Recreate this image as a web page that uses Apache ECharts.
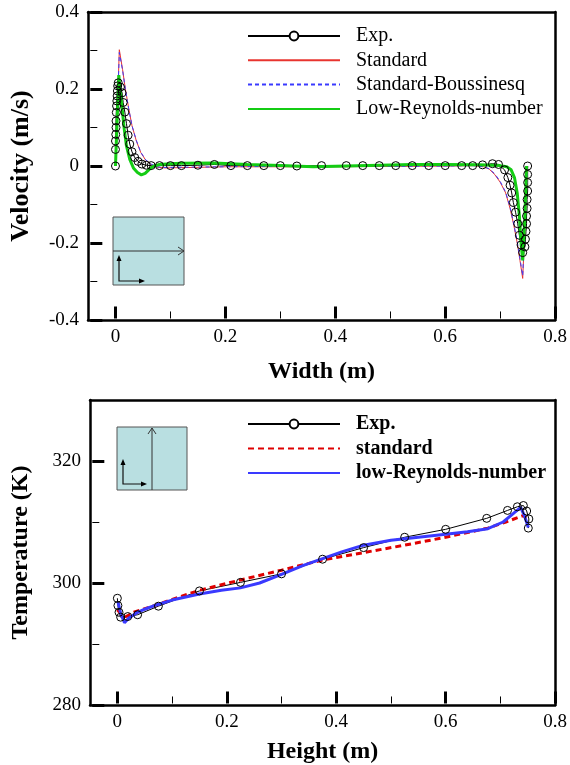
<!DOCTYPE html>
<html>
<head>
<meta charset="utf-8">
<script src="https://cdn.jsdelivr.net/npm/echarts@6/dist/echarts.min.js"></script>
<style>
  html, body { margin: 0; padding: 0; background: #fff; }
  #chart { width: 570px; height: 765px; }
</style>
</head>
<body>
<div id="chart"></div>
<script>
const FONT = '"Liberation Serif", "Times New Roman", serif';

// ---- top panel: velocity across the width ----
const velExp = [
  [0, 0], [0, 0.043], [0, 0.065], [0.0005, 0.082], [0.001, 0.1], [0.001, 0.117],
  [0.0015, 0.139], [0.002, 0.156], [0.0025, 0.169], [0.003, 0.182], [0.0035, 0.195],
  [0.004, 0.208], [0.005, 0.216], [0.009, 0.205], [0.012, 0.19], [0.014, 0.165],
  [0.017, 0.14], [0.02, 0.11], [0.023, 0.08], [0.026, 0.057], [0.03, 0.037],
  [0.035, 0.022], [0.041, 0.012], [0.048, 0.005], [0.056, 0.002], [0.065, 0.001],
  [0.08, 0.001], [0.1, 0.001], [0.12, 0.001], [0.15, 0.002], [0.18, 0.004],
  [0.21, 0.001], [0.24, 0.001], [0.27, 0.001], [0.3, 0.001], [0.33, 0],
  [0.375, 0.001], [0.42, 0.001], [0.45, 0.001], [0.48, 0.001], [0.51, 0.001],
  [0.54, 0.001], [0.57, 0.001], [0.6, 0.001], [0.63, 0.001], [0.65, 0.001],
  [0.668, 0.003], [0.686, 0.006], [0.697, 0.004], [0.708, -0.01], [0.714, -0.03],
  [0.718, -0.05], [0.721, -0.07], [0.724, -0.095], [0.728, -0.12], [0.732, -0.15],
  [0.735, -0.18], [0.738, -0.205], [0.741, -0.225], [0.745, -0.21], [0.746, -0.19],
  [0.747, -0.17], [0.748, -0.15], [0.748, -0.13], [0.749, -0.11], [0.749, -0.087],
  [0.75, -0.065], [0.75, -0.043], [0.75, -0.022], [0.75, 0]
];
const velStandard = [
  [0, 0], [0.007, 0.302], [0.013, 0.25], [0.018, 0.2], [0.024, 0.15], [0.03, 0.105],
  [0.038, 0.065], [0.046, 0.035], [0.055, 0.015], [0.065, 0.004], [0.075, -0.003],
  [0.09, -0.005], [0.13, -0.004], [0.2, -0.002], [0.3, -0.002], [0.4, -0.002],
  [0.5, -0.001], [0.6, 0], [0.65, 0.001], [0.67, -0.002], [0.68, -0.008],
  [0.69, -0.022], [0.7, -0.042], [0.71, -0.07], [0.718, -0.11], [0.725, -0.155],
  [0.731, -0.2], [0.736, -0.245], [0.741, -0.292], [0.75, 0]
];
const velBoussinesq = [
  [0, 0], [0.007, 0.295], [0.013, 0.248], [0.018, 0.199], [0.024, 0.149], [0.03, 0.105],
  [0.038, 0.066], [0.046, 0.036], [0.055, 0.016], [0.065, 0.005], [0.075, -0.002],
  [0.09, -0.004], [0.13, -0.003], [0.2, -0.002], [0.3, -0.001], [0.4, -0.001],
  [0.5, -0.001], [0.6, 0], [0.65, 0.001], [0.67, -0.002], [0.68, -0.007],
  [0.69, -0.02], [0.7, -0.04], [0.71, -0.068], [0.718, -0.107], [0.725, -0.152],
  [0.731, -0.196], [0.736, -0.24], [0.741, -0.285], [0.75, 0]
];
const velLowRe = [
  [0, 0], [0.006, 0.236], [0.011, 0.165], [0.016, 0.095], [0.02, 0.052], [0.026, 0.017],
  [0.033, -0.006], [0.04, -0.017], [0.047, -0.023], [0.054, -0.019], [0.062, -0.008],
  [0.07, 0], [0.08, 0.004], [0.1, 0.006], [0.12, 0.007], [0.18, 0.008], [0.24, 0.004],
  [0.3, 0.001], [0.36, -0.002], [0.42, 0], [0.48, 0.002], [0.54, 0.004], [0.6, 0.004],
  [0.66, 0.003], [0.7, 0.001], [0.712, -0.002], [0.72, -0.01], [0.726, -0.03],
  [0.731, -0.07], [0.735, -0.13], [0.738, -0.2], [0.741, -0.245], [0.745, -0.13],
  [0.748, 0]
];
const velXTicks = [0, 0.2, 0.4, 0.6, 0.8];
const velXMinor = [0.1, 0.3, 0.5, 0.7];
const velYTicks = [-0.4, -0.2, 0, 0.2, 0.4];
const velYMinor = [-0.3, -0.1, 0.1, 0.3];

// ---- bottom panel: temperature along the height ----
const tempExp = [
  [0, 297.5], [0.001, 296.3], [0.003, 295.2], [0.006, 294.4], [0.019, 294.5],
  [0.037, 294.8], [0.075, 296.2], [0.15, 298.7], [0.225, 300.1], [0.3, 301.5],
  [0.375, 303.9], [0.45, 305.8], [0.525, 307.5], [0.6, 308.8], [0.675, 310.6],
  [0.713, 311.9], [0.731, 312.5], [0.742, 312.7], [0.748, 311.8], [0.752, 310.5],
  [0.751, 309.0]
];
const tempStandard = [
  [0, 295.6], [0.008, 294.8], [0.016, 294.5], [0.03, 295.2], [0.071, 296.4],
  [0.11, 297.6], [0.15, 298.8], [0.225, 300.5], [0.3, 302.1], [0.376, 303.8],
  [0.451, 305.0], [0.525, 306.2], [0.6, 307.5], [0.677, 309.0], [0.71, 310.0],
  [0.74, 311.0], [0.748, 310.8]
];
const tempLowRe = [
  [0.001, 297.0], [0.006, 295.0], [0.013, 293.5], [0.02, 294.2], [0.035, 295.1],
  [0.05, 295.7], [0.071, 296.4], [0.1, 297.2], [0.15, 298.2], [0.19, 298.8],
  [0.225, 299.2], [0.26, 300.0], [0.3, 301.4], [0.34, 302.9], [0.375, 304.0],
  [0.41, 305.1], [0.45, 306.2], [0.5, 307.0], [0.55, 307.5], [0.6, 308.0],
  [0.64, 308.4], [0.677, 308.9], [0.705, 310.0], [0.725, 311.5], [0.737, 312.4],
  [0.744, 311.0], [0.751, 309.1]
];
const tempXTicks = [0, 0.2, 0.4, 0.6, 0.8];
const tempXMinor = [0.1, 0.3, 0.5, 0.7];
const tempYTicks = [280, 300, 320];
const tempYMinor = [290, 310];

const tickLabel = { fontFamily: FONT, fontSize: 19, color: "#000" };
const legendText = { fontFamily: FONT, fontSize: 20, color: "#000" };
const axisTitle = { fontFamily: FONT, fontSize: 24, fontWeight: "bold", color: "#000" };

const frameLine = { show: true, onZero: false, lineStyle: { color: "#000", width: 2.5 } };

// axis carrying the frame line, the labels and the title
function labelAxis(gridIndex, min, max, ticks, position, extra) {
  return Object.assign({
    gridIndex, type: "value", min, max, position, z: 5,
    axisLine: frameLine,
    splitLine: { show: false },
    axisTick: { show: false },
    axisLabel: Object.assign({ show: true, customValues: ticks, margin: 8, formatter: (v) => String(v) }, tickLabel),
  }, extra);
}

// tick-only axis, sitting on the zero of a hidden helper axis just inside the edge
function tickAxis(gridIndex, min, max, ticks, position, helper, length, width) {
  return {
    gridIndex, type: "value", min, max, position, z: 5,
    axisLine: { show: false, onZero: true, onZeroAxisIndex: helper },
    splitLine: { show: false },
    axisTick: { show: true, inside: true, length, customValues: ticks, lineStyle: { color: "#000", width } },
    axisLabel: { show: false },
  };
}

// top / right side of the frame
function frameAxis(gridIndex, min, max, position) {
  return {
    gridIndex, type: "value", min, max, position, z: 5,
    axisLine: frameLine,
    axisTick: { show: false },
    axisLabel: { show: false },
    splitLine: { show: false },
  };
}

// hidden 0..1 axis whose zero lies a pixel or two inside the left/bottom edge
function helperAxis(gridIndex, position) {
  return {
    gridIndex, type: "value", min: -0.005, max: 1, position, show: false,
    axisLine: { show: false, onZero: false },
    splitLine: { show: false },
  };
}

const expStyle = {
  symbol: "circle",
  symbolSize: 8,
  itemStyle: { color: "rgba(0,0,0,0)", borderColor: "#000", borderWidth: 1 },
  lineStyle: { color: "#000", width: 1 },
};

// legend entries for plain lines: hide the marker, keep the line
const noMarker = { color: "rgba(0,0,0,0)", borderWidth: 0, opacity: 0 };

const option = {
  animation: false,
  backgroundColor: "#fff",
  grid: [
    { left: 87, top: 12, width: 470, height: 308, show: false },
    { left: 90, top: 400, width: 467, height: 307, show: false },
  ],
  xAxis: [
    labelAxis(0, -0.05, 0.8, velXTicks, "bottom", {
      name: "Width (m)", nameLocation: "middle", nameGap: 40, nameTextStyle: axisTitle,
    }),
    tickAxis(0, -0.05, 0.8, velXTicks, "bottom", 4, 12, 3),
    tickAxis(0, -0.05, 0.8, velXMinor, "bottom", 4, 7, 1),
    frameAxis(0, -0.05, 0.8, "top"),
    helperAxis(0, "bottom"),
    labelAxis(1, -0.05, 0.8, tempXTicks, "bottom", {
      name: "Height (m)", nameLocation: "middle", nameGap: 35, nameTextStyle: axisTitle,
    }),
    tickAxis(1, -0.05, 0.8, tempXTicks, "bottom", 9, 12, 3),
    tickAxis(1, -0.05, 0.8, tempXMinor, "bottom", 9, 7, 1),
    frameAxis(1, -0.05, 0.8, "top"),
    helperAxis(1, "bottom"),
  ],
  yAxis: [
    labelAxis(0, -0.4, 0.4, velYTicks, "left", {
      axisLabel: Object.assign({ show: true, customValues: velYTicks, margin: 9 }, tickLabel),
      name: "Velocity (m/s)", nameLocation: "middle", nameGap: 54,
      nameTextStyle: Object.assign({}, axisTitle, { fontSize: 26 }),
    }),
    tickAxis(0, -0.4, 0.4, velYTicks, "left", 4, 12, 3),
    tickAxis(0, -0.4, 0.4, velYMinor, "left", 4, 7, 1),
    frameAxis(0, -0.4, 0.4, "right"),
    helperAxis(0, "left"),
    labelAxis(1, 280, 330, tempYTicks, "left", {
      axisLabel: Object.assign({ show: true, customValues: tempYTicks, margin: 9 }, tickLabel),
      name: "Temperature (K)", nameLocation: "middle", nameGap: 57, nameTextStyle: axisTitle,
    }),
    tickAxis(1, 280, 330, tempYTicks, "left", 9, 12, 3),
    tickAxis(1, 280, 330, tempYMinor, "left", 9, 7, 1),
    frameAxis(1, 280, 330, "right"),
    helperAxis(1, "left"),
  ],
  legend: [
    {
      orient: "vertical", left: 242, top: 21, itemWidth: 92, itemHeight: 11, itemGap: 4.3,
      textStyle: Object.assign({ padding: [0, 0, 0, 11] }, legendText),
      data: [
        { name: "Exp.", itemStyle: { color: "#fff" } },
        { name: "Standard", itemStyle: noMarker },
        { name: "Standard-Boussinesq", itemStyle: noMarker },
        { name: "Low-Reynolds-number", itemStyle: noMarker },
      ],
    },
    {
      orient: "vertical", left: 242, top: 409, itemWidth: 92, itemHeight: 11, itemGap: 4.5,
      textStyle: Object.assign({ padding: [0, 0, 0, 11], fontWeight: "bold" }, legendText),
      data: [
        { name: "Exp. ", itemStyle: { color: "#fff" } },
        { name: "standard", itemStyle: noMarker },
        { name: "low-Reynolds-number", itemStyle: noMarker },
      ],
    },
  ],
  series: [
    Object.assign({ type: "line", name: "Exp.", xAxisIndex: 0, yAxisIndex: 0, data: velExp }, expStyle),
    {
      type: "line", name: "Standard", xAxisIndex: 0, yAxisIndex: 0, data: velStandard,
      symbol: "none", lineStyle: { color: "#e8342f", width: 1 }, itemStyle: { color: "#e8342f" },
    },
    {
      type: "line", name: "Standard-Boussinesq", xAxisIndex: 0, yAxisIndex: 0, data: velBoussinesq,
      symbol: "none", lineStyle: { color: "#3a3aff", width: 1, type: [4, 3] }, itemStyle: { color: "#3a3aff" },
    },
    {
      type: "line", name: "Low-Reynolds-number", xAxisIndex: 0, yAxisIndex: 0, data: velLowRe,
      symbol: "none", lineStyle: { color: "#14cc14", width: 3 }, itemStyle: { color: "#14cc14" },
    },
    Object.assign({ type: "line", name: "Exp. ", xAxisIndex: 5, yAxisIndex: 5, data: tempExp }, expStyle),
    {
      type: "line", name: "standard", xAxisIndex: 5, yAxisIndex: 5, data: tempStandard,
      symbol: "none", lineStyle: { color: "#e00000", width: 3, type: [6, 4] }, itemStyle: { color: "#e00000" },
    },
    {
      type: "line", name: "low-Reynolds-number", xAxisIndex: 5, yAxisIndex: 5, data: tempLowRe,
      symbol: "none", lineStyle: { color: "#3a3aff", width: 3 }, itemStyle: { color: "#3a3aff" },
    },
  ],
  // sketches of the cavity with the sampling line
  graphic: [
    { type: "rect", shape: { x: 113, y: 217, width: 71, height: 68 }, style: { fill: "#b9dfe1", stroke: "#555", lineWidth: 1 } },
    { type: "line", shape: { x1: 113, y1: 251, x2: 184, y2: 251 }, style: { stroke: "#333", lineWidth: 1 } },
    { type: "polyline", shape: { points: [[178, 247], [184, 251], [178, 255]] }, style: { stroke: "#333", fill: null, lineWidth: 1 } },
    { type: "polyline", shape: { points: [[119, 260], [119, 281], [140, 281]] }, style: { stroke: "#111", fill: null, lineWidth: 1.2 } },
    { type: "polygon", shape: { points: [[116.5, 261], [119, 255], [121.5, 261]] }, style: { fill: "#000" } },
    { type: "polygon", shape: { points: [[139, 278.5], [145, 281], [139, 283.5]] }, style: { fill: "#000" } },

    { type: "rect", shape: { x: 117, y: 427, width: 70, height: 63 }, style: { fill: "#b9dfe1", stroke: "#555", lineWidth: 1 } },
    { type: "line", shape: { x1: 152, y1: 490, x2: 152, y2: 428 }, style: { stroke: "#333", lineWidth: 1 } },
    { type: "polyline", shape: { points: [[148, 434], [152, 428], [156, 434]] }, style: { stroke: "#333", fill: null, lineWidth: 1 } },
    { type: "polyline", shape: { points: [[123, 464], [123, 484], [142, 484]] }, style: { stroke: "#111", fill: null, lineWidth: 1.2 } },
    { type: "polygon", shape: { points: [[120.5, 465], [123, 459], [125.5, 465]] }, style: { fill: "#000" } },
    { type: "polygon", shape: { points: [[141, 481.5], [147, 484], [141, 486.5]] }, style: { fill: "#000" } },
  ],
};

const chart = echarts.init(document.getElementById("chart"));
chart.setOption(option);
</script>
</body>
</html>
